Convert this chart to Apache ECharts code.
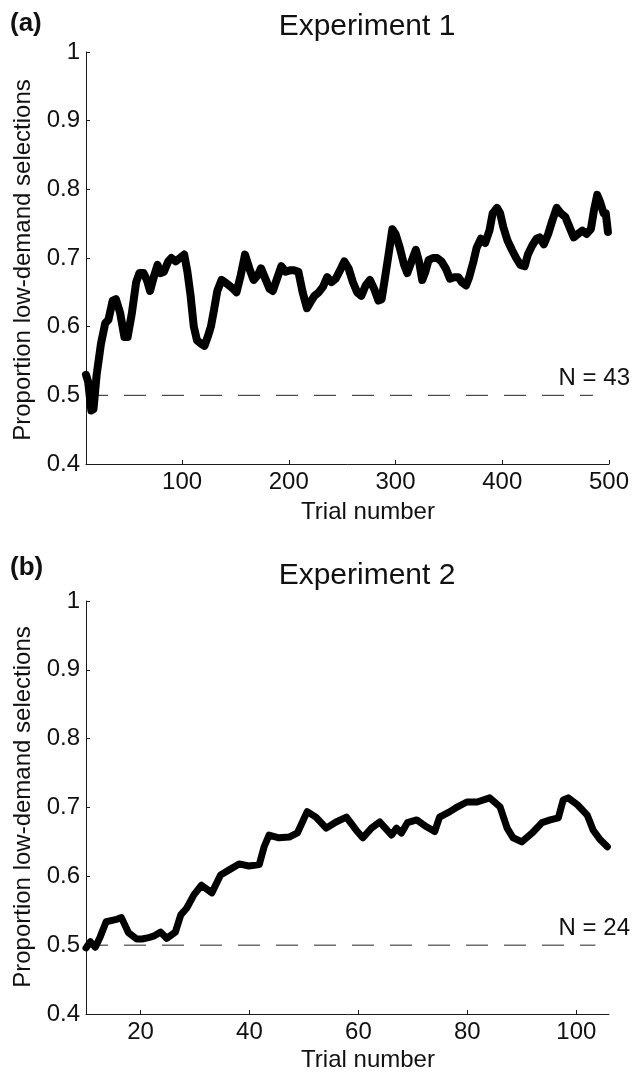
<!DOCTYPE html>
<html><head><meta charset="utf-8">
<script src="https://cdn.jsdelivr.net/npm/echarts@6/dist/echarts.min.js"></script>
<style>html,body{margin:0;padding:0;background:#fff}#c{width:635px;height:1074px}</style>
</head><body><div id="c"></div>
<script>
const FONT = "'Liberation Sans', Arial, Helvetica, sans-serif";

// Experiment 1
const trials1 = [10,12,15,17,20,24,28,31,35,38,42,46,49,53,57,60,64,67,70,74,77,80,83,87,90,94,98,102,105,108,111,114,118,121,124,127,130,133,137,140,144,148,151,155,159,163,167,171,174,178,182,185,189,193,197,201,205,209,213,217,220,224,228,232,236,240,244,248,252,256,260,264,268,272,276,280,284,287,290,293,297,300,304,308,311,315,319,322,325,328,331,335,339,343,347,351,355,359,362,366,369,373,376,380,384,388,391,395,398,401,405,409,413,417,421,424,428,432,435,439,443,447,451,455,459,463,467,471,475,479,483,486,489,492,495,497,499];
const values1 = [0.53,0.52,0.478,0.48,0.53,0.575,0.605,0.61,0.638,0.64,0.62,0.585,0.585,0.62,0.665,0.678,0.678,0.668,0.652,0.675,0.69,0.678,0.68,0.695,0.70,0.695,0.70,0.705,0.68,0.645,0.60,0.58,0.575,0.572,0.585,0.60,0.625,0.652,0.668,0.665,0.66,0.655,0.65,0.675,0.705,0.685,0.668,0.675,0.685,0.67,0.655,0.652,0.67,0.688,0.68,0.682,0.682,0.68,0.65,0.627,0.635,0.645,0.65,0.658,0.672,0.665,0.67,0.682,0.695,0.685,0.665,0.65,0.645,0.66,0.668,0.655,0.638,0.64,0.67,0.70,0.742,0.735,0.715,0.69,0.678,0.695,0.712,0.695,0.668,0.68,0.697,0.70,0.70,0.695,0.685,0.67,0.672,0.672,0.665,0.66,0.672,0.695,0.715,0.728,0.722,0.74,0.765,0.773,0.765,0.745,0.725,0.712,0.70,0.69,0.688,0.705,0.718,0.728,0.73,0.72,0.735,0.755,0.773,0.765,0.76,0.745,0.73,0.735,0.74,0.735,0.742,0.77,0.792,0.78,0.765,0.765,0.738];

// Experiment 2
const trials2 = [10,10.8,11.7,12.6,13.7,15.4,16.5,17.8,19.3,20.3,21.5,22.4,23.7,24.8,26.4,27.4,28.5,29.8,31.2,33.1,34.7,36.2,38.1,39.9,41.8,42.7,43.6,45.4,47.3,48.8,50.6,52.2,54.1,55.9,57.8,59.6,60.8,62.4,63.9,66.1,67,67.9,69,70.7,72.5,74,74.9,76.8,78.2,79.9,81.8,84.1,86,87.3,88.4,90,91.9,93.7,95.2,96.7,97.6,98.5,100.2,102,103.1,104.4,105.7];
const values2 = [0.496,0.505,0.497,0.512,0.534,0.537,0.54,0.518,0.509,0.509,0.511,0.513,0.519,0.51,0.519,0.544,0.554,0.573,0.587,0.576,0.602,0.609,0.618,0.615,0.617,0.643,0.66,0.656,0.657,0.663,0.694,0.686,0.67,0.679,0.686,0.667,0.656,0.67,0.679,0.66,0.67,0.663,0.678,0.682,0.672,0.665,0.686,0.694,0.701,0.708,0.708,0.714,0.701,0.67,0.656,0.65,0.663,0.678,0.682,0.685,0.711,0.714,0.704,0.689,0.667,0.653,0.643];

const xTicks1 = [100,200,300,400,500];
const xTicks2 = [20,40,60,80,100];
const xRange1 = [10,500];
const xRange2 = [10,106];
const yRange = [0.4,1];
const chance = 0.5;
const dashEnd1 = 485, dashEnd2 = 103.5;
const nLabel1 = 'N = 43', nLabel2 = 'N = 24';
const titles = ['Experiment 1','Experiment 2'];
const panelTags = ['(a)','(b)'];
const xName = 'Trial number';
const yName = 'Proportion low-demand selections';

const axisColor = '#1a1a1a';
function xAxis(gi, range, ticks){
  return {type:'value', gridIndex:gi, min:range[0], max:range[1],
    axisLine:{show:true, lineStyle:{color:axisColor, width:1}},
    axisTick:{show:true, inside:true, length:4, customValues:ticks, lineStyle:{color:axisColor}},
    axisLabel:{customValues:ticks, fontSize:24, color:'#111', fontFamily:FONT, margin:6},
    splitLine:{show:false}};
}
function yAxis(gi){
  return {type:'value', gridIndex:gi, min:yRange[0], max:yRange[1], interval:0.1,
    axisLine:{show:true, lineStyle:{color:axisColor, width:1}},
    axisTick:{show:true, inside:true, length:4, lineStyle:{color:axisColor}},
    axisLabel:{fontSize:24, color:'#111', fontFamily:FONT, margin:6,
      formatter:v=>String(+(+v).toFixed(1))},
    splitLine:{show:false}};
}
function zip(a,b){return a.map((t,i)=>[t,b[i]]);}
function dashSeries(gi, xEnd, label, labX){
  return {type:'line', xAxisIndex:gi, yAxisIndex:gi, data:[[10,chance],[xEnd,chance]],
    showSymbol:false, silent:true, z:1,
    lineStyle:{color:'#222', width:1, type:[22,16]},
    markPoint:{symbol:'circle', symbolSize:0, silent:true,
      data:[{coord:[labX,0.524], label:{show:true, position:'inside', align:'right', offset:[21,0],
        formatter:label, fontSize:24, color:'#111', fontFamily:FONT}}]}};
}
function mainSeries(gi, tr, vals, w){
  return {type:'line', xAxisIndex:gi, yAxisIndex:gi, data:zip(tr,vals), showSymbol:false,
    silent:true, z:3, lineStyle:{color:'#000', width:w, join:'round', cap:'round'}};
}
function txt(x,y,s,size,opts){
  return Object.assign({type:'text', x:x, y:y, silent:true,
    style:Object.assign({text:s, fontSize:size, fontFamily:FONT, fill:'#111', align:'center', verticalAlign:'middle'}, opts||{})});
}

const chart = echarts.init(document.getElementById('c'), null, {renderer:'canvas'});
chart.setOption({
  animation:false,
  backgroundColor:'#fff',
  grid:[{left:86, top:52, width:523, height:412},{left:86, top:601, width:523, height:413}],
  xAxis:[xAxis(0,xRange1,xTicks1), xAxis(1,xRange2,xTicks2)],
  yAxis:[yAxis(0), yAxis(1)],
  series:[
    dashSeries(0, dashEnd1, nLabel1, 500),
    mainSeries(0, trials1, values1, 8),
    dashSeries(1, dashEnd2, nLabel2, 106),
    mainSeries(1, trials2, values2, 7)
  ],
  graphic:[
    txt(10,24,panelTags[0],26,{align:'left', fontWeight:'bold'}),
    txt(10,568,panelTags[1],26,{align:'left', fontWeight:'bold'}),
    txt(367,27,titles[0],30),
    txt(367,576,titles[1],30),
    txt(368,512,xName,24),
    txt(368,1060,xName,24),
    {type:'text', x:23, y:260, rotation:Math.PI/2, silent:true,
      style:{text:yName, fontSize:24, fontFamily:FONT, fill:'#111', align:'center', verticalAlign:'middle'}},
    {type:'text', x:23, y:807, rotation:Math.PI/2, silent:true,
      style:{text:yName, fontSize:24, fontFamily:FONT, fill:'#111', align:'center', verticalAlign:'middle'}}
  ]
});
</script></body></html>
